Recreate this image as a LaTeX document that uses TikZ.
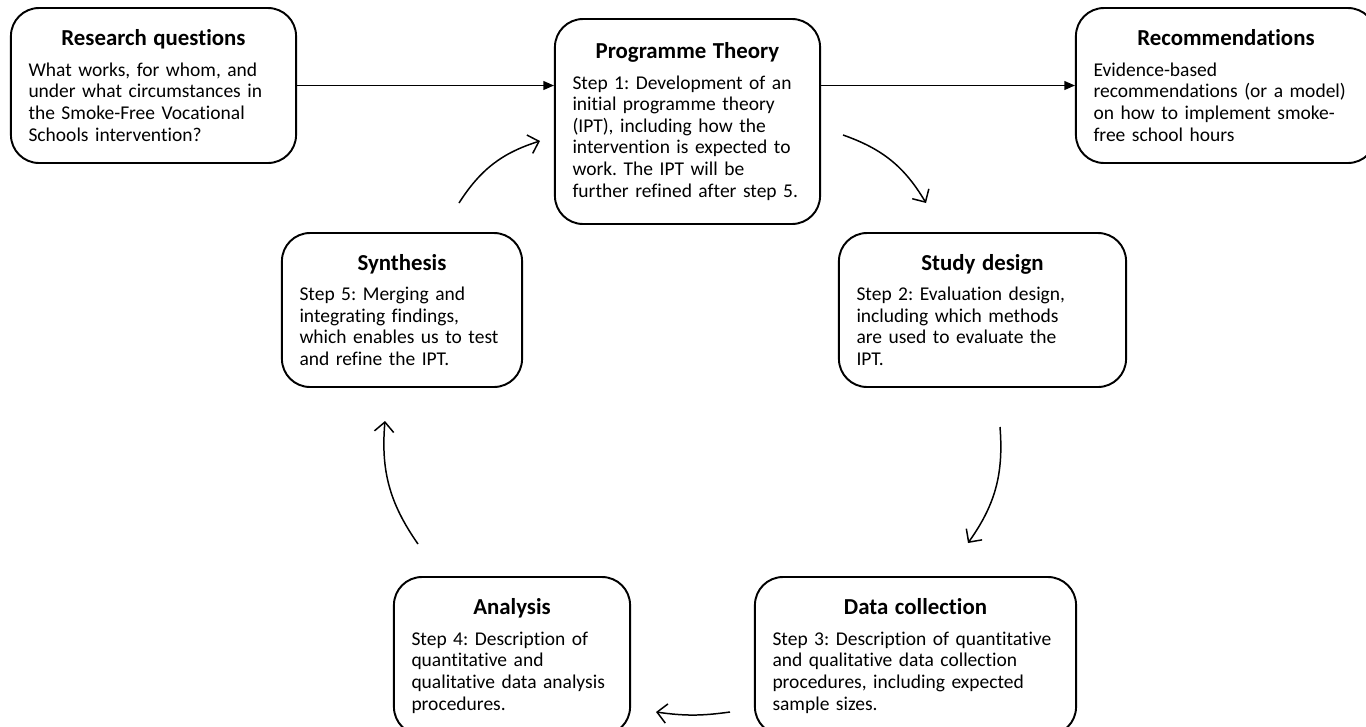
\documentclass[tikz,border=0pt]{standalone}
\usepackage{fontspec}
\setmainfont{Carlito}[Ligatures=NoCommon]
\usetikzlibrary{arrows.meta}
\frenchspacing

\newcommand\stagetitle[1]{{\centering\bfseries\fontsize{13}{15}\selectfont #1\par}\vspace{5pt}}

\begin{document}
\begin{tikzpicture}[
	stage/.style={draw, line width=1.1pt, rounded corners=16pt, inner xsep=10pt, inner ysep=4pt, align=left, font=\fontsize{11.1}{12.3}\selectfont},
	link/.style={line width=0.85pt, -{Triangle[length=6pt, width=5pt]}},
	cycle/.style={line width=0.85pt, -{Straight Barb[length=5.5pt, width=11pt]}, bend left=#1},
	cycle/.default=20]
	\useasboundingbox (0,0) rectangle (27.32,-14.54);
	% boxes
	\node[stage, text width=5.00cm, minimum height=3.10cm] (rq) at (3.07,-1.71) {\stagetitle{Research questions}What works, for whom, and\\ under what circumstances in\\ the Smoke-Free Vocational\\ Schools intervention?};
	\node[stage, text width=4.60cm, minimum height=4.10cm] (pt) at (13.75,-2.43) {\stagetitle{Programme Theory}Step 1: Development of an\\ initial programme theory\\ (IPT), including how the\\ intervention is expected to\\ work. The IPT will be\\ further refined after step 5.};
	\node[stage, text width=5.30cm, minimum height=3.10cm] (rec) at (24.52,-1.71) {\stagetitle{Recommendations}Evidence-based\\ recommendations (or a model)\\ on how to implement smoke-\\ free school hours};
	\node[stage, text width=4.10cm, minimum height=3.08cm] (syn) at (8.04,-6.20) {\stagetitle{Synthesis}Step 5: Merging and\\ integrating findings,\\ which enables us to test\\ and refine the IPT.};
	\node[stage, text width=5.04cm, minimum height=3.08cm] (sd) at (19.65,-6.20) {\stagetitle{Study design}Step 2: Evaluation design,\\ including which methods\\ are used to evaluate the\\ IPT.};
	\node[stage, text width=4.02cm, minimum height=3.16cm] (an) at (10.24,-13.12) {\stagetitle{Analysis}Step 4: Description of\\ quantitative and\\ qualitative data analysis\\ procedures.};
	\node[stage, text width=5.72cm, minimum height=3.16cm] (dc) at (18.31,-13.12) {\stagetitle{Data collection}Step 3: Description of quantitative\\ and qualitative data collection\\ procedures, including expected\\ sample sizes.};
	% straight links
	\draw[link] (rq.east) -- (rq.east -| pt.west);
	\draw[link] (pt.east |- rec.west) -- (rec.west);
	% cycle arrows
	\coordinate (pt-out) at (16.86,-2.70);
	\coordinate (sd-in) at (18.52,-4.06);
	\coordinate (sd-out) at (20.00,-8.54);
	\coordinate (dc-in) at (19.36,-10.86);
	\coordinate (dc-out) at (14.60,-14.24);
	\coordinate (an-in) at (13.12,-14.24);
	\coordinate (an-out) at (8.36,-10.88);
	\coordinate (syn-in) at (7.70,-8.42);
	\coordinate (syn-out) at (9.18,-4.06);
	\coordinate (pt-in) at (10.80,-2.82);
	\draw[cycle] (pt-out) to (sd-in);
	\draw[cycle] (sd-out) to (dc-in);
	\draw[cycle=8] (dc-out) to (an-in);
	\draw[cycle] (an-out) to (syn-in);
	\draw[cycle] (syn-out) to (pt-in);
\end{tikzpicture}
\end{document}
